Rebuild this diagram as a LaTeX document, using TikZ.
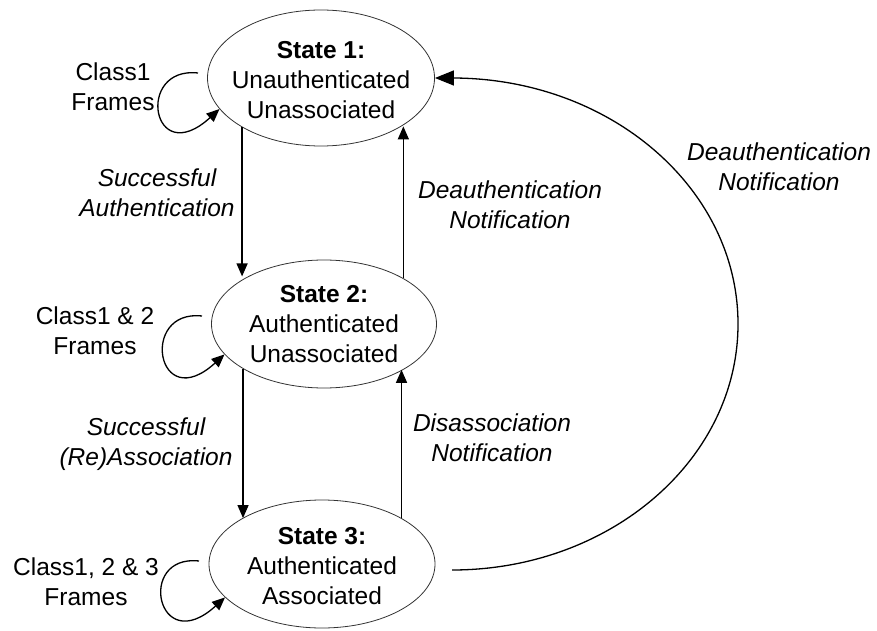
\documentclass[tikz,border=0pt]{standalone}
\usepackage{fontspec}
\setmainfont{Liberation Sans}
\usetikzlibrary{shapes.geometric,arrows.meta,calc}
\begin{document}
\begin{tikzpicture}[x=1pt,y=1pt,
  stell/.style={draw=black!80, line width=0.8pt, ellipse, inner sep=0pt},
  sttxt/.style={align=center, font=\fontsize{24.5}{30}\selectfont, inner sep=0pt},
  lbl/.style={align=center, font=\fontsize{24.5}{30}\selectfont\itshape, inner sep=0pt},
  cls/.style={align=center, font=\fontsize{24.5}{30}\selectfont, inner sep=0pt},
  arr/.style={line width=1.3pt, -{Triangle[length=13pt,width=11pt]}},
  bigarr/.style={line width=1.3pt, -{Triangle[length=19pt,width=15pt]}}
]
\useasboundingbox (0,0) rectangle (877,630);
% states
\node[stell, minimum width=227pt, minimum height=136pt] (s1) at (321,552) {};
\node[stell, minimum width=225pt, minimum height=128pt] (s2) at (324,306) {};
\node[stell, minimum width=226pt, minimum height=128pt] (s3) at (322,66) {};
\node[sttxt] (t1) at (321,550) {\textbf{State 1:}\\Unauthenticated\\Unassociated};
\node[sttxt] (t2) at (324,306) {\textbf{State 2:}\\Authenticated\\Unassociated};
\node[sttxt] (t3) at (322,64) {\textbf{State 3:}\\Authenticated\\Associated};
% vertical transitions
\draw[arr] (s1.212) -- (s1.212 |- s2.148);
\draw[arr] (s2.30) -- (s2.30 |- s1.329);
\draw[arr] (s2.209) -- (s2.209 |- s3.150);
\draw[arr] (s3.30) -- (s3.30 |- s2.330);
% big arc
\coordinate (arcs) at (452,60);
\draw[bigarr] (arcs) arc[start angle=-90,end angle=90,x radius=286,y radius=246] -- (s1.east);
% self loops
\coordinate (l1) at ($(s1.center)+(-123,5)$);
\coordinate (l2) at ($(s2.center)+(-122,8)$);
\coordinate (l3) at ($(s3.center)+(-123,3)$);
\draw[arr] (l1) .. controls +(-63,7) and +(-68,-62) .. (s1.197);
\draw[arr] (l2) .. controls +(-63,7) and +(-68,-62) .. (s2.197);
\draw[arr] (l3) .. controls +(-63,7) and +(-68,-62) .. (s3.199);
% loop labels
\node[cls] (c1) at (113,543) {Class1\\Frames};
\node[cls] (c2) at (95,299) {Class1 \& 2\\Frames};
\node[cls] (c3) at (86,48) {Class1, 2 \& 3\\Frames};
% transition labels
\node[lbl] (e1) at (157,437) {Successful\\Authentication};
\node[lbl] (e2) at (146,186) {Successful\\(Re)Association};
\node[lbl] (e3) at (510,425) {Deauthentication\\Notification};
\node[lbl] (e4) at (492,192) {Disassociation\\Notification};
\node[lbl] (e5) at (779,463) {Deauthentication\\Notification};
\end{tikzpicture}
\end{document}
